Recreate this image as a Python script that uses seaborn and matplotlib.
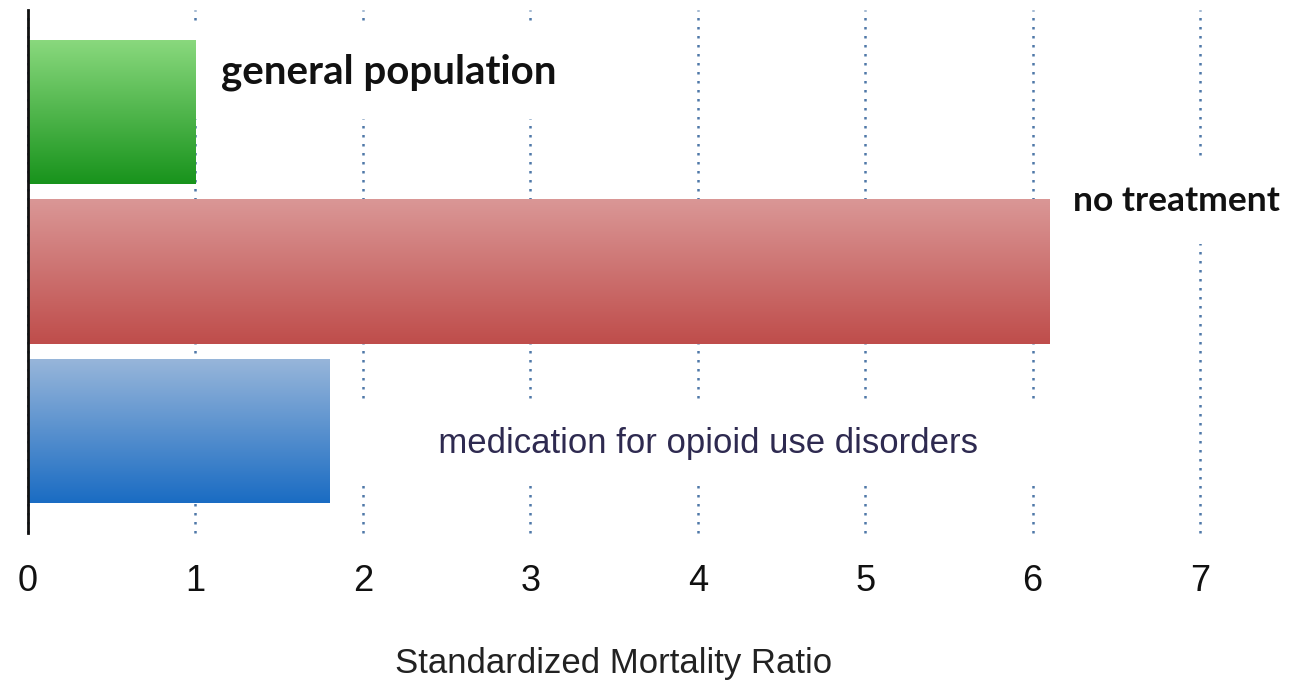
import numpy as np
import pandas as pd
import matplotlib.pyplot as plt
import seaborn as sns
from matplotlib.colors import LinearSegmentedColormap

# --- data ---
groups = ["general population", "no treatment", "medication for opioid use disorders"]
smr = [1.0, 6.1, 1.8]
top_colors = ["#8ad97e", "#da9796", "#98b6da"]
bottom_colors = ["#18931c", "#bf4d4b", "#1a6cc3"]

df = pd.DataFrame({"group": groups, "smr": smr})

sns.set_style("white")
plt.rcParams["font.family"] = ["Liberation Sans", "DejaVu Sans"]

fig = plt.figure(figsize=(12.91, 6.84), dpi=100)
ax = fig.add_axes([0.0217, 0.2208, 0.9078, 0.7646])

sns.barplot(data=df, x="smr", y="group", orient="h", width=0.906,
            color="white", linewidth=0, zorder=2, ax=ax)

# vertical gradient fill on each bar, clipped to the seaborn patch
grad = np.linspace(0, 1, 256).reshape(-1, 1)
for patch, c0, c1 in zip(ax.patches, top_colors, bottom_colors):
    x0, y0 = patch.get_x(), patch.get_y()
    w, h = patch.get_width(), patch.get_height()
    cmap = LinearSegmentedColormap.from_list("bar", [c0, c1])
    im = ax.imshow(grad, cmap=cmap, aspect="auto", interpolation="bicubic",
                   extent=(x0, x0 + w, y0 + h, y0), zorder=2.1)
    im.set_clip_path(patch)

ax.set_xlim(0, 7)
ax.set_ylim(2.64, -0.64)

# dotted blue gridlines
ax.set_axisbelow(True)
ax.xaxis.grid(True, linestyle=(0, (1, 2.6)), color="#4f78a8", linewidth=1.8)
ax.yaxis.grid(False)
for gl in ax.get_xgridlines():
    gl.set_clip_on(False)

sns.despine(ax=ax, top=True, right=True, bottom=True)
ax.spines["left"].set_color("#111111")
ax.spines["left"].set_linewidth(2)

ax.set_xticks(range(8))
ax.tick_params(axis="x", length=0, pad=22, labelsize=26, colors="#111111")
ax.set_yticks([])
ax.set_ylabel("")
ax.set_xlabel("Standardized Mortality Ratio", fontsize=25, labelpad=35, color="#222222")

# bar labels (white boxes break the gridlines like in the original)
ax.text(1.15, -0.25, "general population", fontsize=29, fontweight="bold",
        family=["Lato", "DejaVu Sans"], color="#111111", va="center", ha="left",
        bbox=dict(boxstyle="square,pad=0.7", facecolor="white", edgecolor="none"),
        zorder=1.5)
ax.text(6.24, 0.56, "no treatment", fontsize=25.5, fontweight="bold",
        family=["Lato", "DejaVu Sans"], color="#111111", va="center", ha="left",
        bbox=dict(boxstyle="square,pad=0.75", facecolor="white", edgecolor="none"),
        zorder=1.5, clip_on=False)
ax.text(4.06, 2.08, "       medication for opioid use disorders       ", fontsize=25,
        color="#2e2a50", va="center", ha="center",
        bbox=dict(boxstyle="square,pad=0.75", facecolor="white", edgecolor="none"),
        zorder=1.5)

plt.savefig("out.png", dpi=100)
